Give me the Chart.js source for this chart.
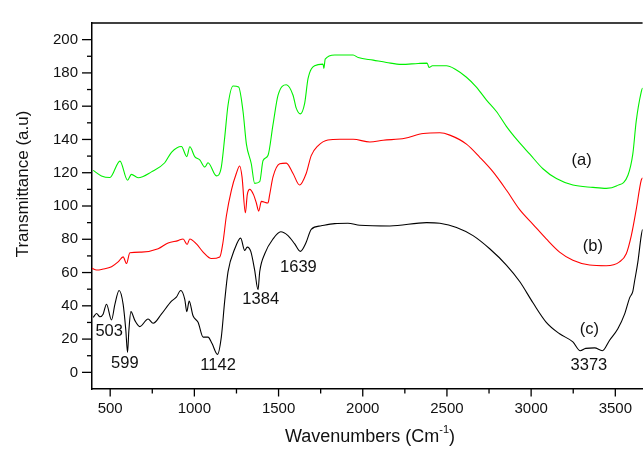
<!DOCTYPE html>
<html><head><meta charset="utf-8">
<script src="https://cdn.jsdelivr.net/npm/chart.js@4.4.1/dist/chart.umd.min.js"></script>
<style>html,body{margin:0;padding:0;background:#fff;overflow:hidden}#wrap{width:643px;height:454px;position:relative}</style>
</head><body><div id="wrap"><canvas id="c"></canvas></div>
<script>
// ---- data (wavenumber, transmittance) ----
const wnA = [399,448,498,558,603,626,666,745,824,864,923,955,973,1002,1032,1062,1081,1131,1160,1180,1200,1230,1263,1289,1309,1338,1358,1388,1408,1437,1467,1497,1546,1586,1605,1629,1655,1675,1714,1764,1769,1777,1833,1864,1943,1973,2062,2141,2230,2329,2382,2394,2414,2497,2547,2616,2675,2735,2794,2853,2922,2991,3070,3150,3248,3367,3446,3506,3575,3604,3624,3654,3662];
const trA = [121.4,118.1,117.1,127,115.5,119,117,120.5,126,132.3,135.8,129.7,135.6,129.7,127.7,123.4,126,118.1,123.4,141.1,160.7,172.1,171.5,156.8,137.2,125.4,113.6,114.6,127.3,130.3,148.9,166.6,172.9,166.6,158.8,155.4,161.7,176.5,184.3,185.3,182.7,188.3,190.8,190.8,190.8,189.2,187.7,186.3,185.1,185.7,185.9,183.3,184.3,184.3,182.4,177.4,171.5,163.7,156.8,147.9,139.1,131.3,122.4,116.5,112.6,111.2,110.6,112,118.5,131.3,150.9,168.6,171];

const wnB = [392,419,458,508,547,577,597,617,686,785,844,903,933,957,973,1012,1052,1101,1151,1170,1190,1220,1249,1269,1283,1303,1314,1329,1352,1368,1382,1398,1437,1447,1467,1507,1546,1586,1625,1664,1694,1734,1793,1864,1943,2042,2121,2250,2359,2458,2517,2616,2695,2774,2853,2932,3011,3090,3169,3248,3347,3446,3525,3565,3595,3624,3654,3662];
const trB = [62.5,61.5,62.1,63.5,66.4,69.4,65.4,71.9,72.3,74.3,77.8,79.2,80.2,76.9,80.2,77.2,72.3,68.4,69.4,78.2,94,109.6,119.5,124,117.5,95.9,106.7,110,106.7,101.8,96.9,102.8,101.8,106.7,117.5,125.4,125.8,119.5,112.6,119.5,130.3,136.2,139.7,140.1,140.1,138.5,139.5,140.7,143.6,144,142.6,137.2,129.3,120.5,109.6,97.8,89,80.2,72.3,67.4,64.5,64.1,66.4,71.3,82.2,97.8,115.5,117];

const wnC = [399,419,439,458,478,508,528,553,577,593,603,611,623,647,676,725,755,804,864,893,919,943,955,969,992,1022,1052,1081,1105,1137,1160,1180,1200,1240,1275,1299,1314,1335,1358,1378,1388,1418,1467,1513,1556,1596,1629,1664,1694,1753,1833,1912,1983,2161,2379,2458,2557,2655,2754,2853,2932,3011,3090,3169,3248,3292,3324,3377,3423,3466,3515,3555,3585,3604,3614,3634,3654,3662];
const trC = [33,35.4,33.4,35,40.9,31.5,40.9,49.2,40.9,25.2,12,25.2,36.5,31.1,27.5,32.1,29.5,35,42.8,45.2,49.2,43.9,36.5,42.8,34,30.1,21.2,21.2,17.3,10.8,21.2,42.8,60.5,74.3,80.7,73.3,75.3,72.7,61.5,49.7,60.5,71.3,80.2,84.5,82.2,77.2,72.7,78.2,86,88.1,89.4,89.6,88.4,88,90,89.6,87.1,82.2,74.3,64.5,54.6,41.8,30.1,23.2,18.3,13,14.4,14.7,13,19.3,26.2,35,44.8,48.7,54.6,66.4,82.2,86];

// ---- axis ticks ----
const xMajorTicks = [500,1000,1500,2000,2500,3000,3500];
const xMinorTicks = [750,1250,1750,2250,2750,3250];
const yMajorTicks = [0,20,40,60,80,100,120,140,160,180,200];
const yMinorTicks = [10,30,50,70,90,110,130,150,170,190];

// ---- annotations ----
const annoText = ['503','599','1142','1384','1639','3373','(a)','(b)','(c)'];
const annoX = [494,587,1141,1394,1618,3343,3300,3367,3346];
const annoY = [24.6,5.1,3.9,43.9,62.9,4.2,127.3,75.9,25.5];

const xTitle = 'Wavenumbers (Cm';
const xTitleSup = '-1';
const yTitle = 'Transmittance (a.u)';

const FONT = '"Liberation Sans", Arial, sans-serif';

const toXY = (xs, ys) => xs.map((x, i) => ({x: x, y: ys[i]}));

const decor = {
  id: 'decor',
  afterDraw(chart) {
    const ctx = chart.ctx, ca = chart.chartArea;
    const xs = chart.scales.x, ys = chart.scales.y;
    ctx.save();
    ctx.strokeStyle = '#000';
    ctx.lineWidth = 1.5;
    ctx.beginPath(); ctx.moveTo(ca.left, ca.top); ctx.lineTo(ca.right, ca.top); ctx.stroke();
    const xb = ca.bottom;
    ctx.lineWidth = 1.3;
    xMajorTicks.forEach(v => { const p = xs.getPixelForValue(v); ctx.beginPath(); ctx.moveTo(p, xb); ctx.lineTo(p, xb + 7.5); ctx.stroke(); });
    xMinorTicks.forEach(v => { const p = xs.getPixelForValue(v); ctx.beginPath(); ctx.moveTo(p, xb); ctx.lineTo(p, xb + 4.5); ctx.stroke(); });
    const yl = ca.left;
    yMajorTicks.forEach(v => { const p = ys.getPixelForValue(v); ctx.beginPath(); ctx.moveTo(yl, p); ctx.lineTo(yl - 10, p); ctx.stroke(); });
    yMinorTicks.forEach(v => { const p = ys.getPixelForValue(v); ctx.beginPath(); ctx.moveTo(yl, p); ctx.lineTo(yl - 5, p); ctx.stroke(); });
    ctx.fillStyle = '#111';
    ctx.textAlign = 'center';
    ctx.textBaseline = 'middle';
    ctx.font = '16.5px ' + FONT;
    annoText.forEach((t, i) => {
      ctx.fillText(t, xs.getPixelForValue(annoX[i]), ys.getPixelForValue(annoY[i]));
    });
    ctx.save();
    ctx.translate(23, 184);
    ctx.rotate(-Math.PI / 2);
    ctx.font = '17px ' + FONT;
    ctx.fillText(yTitle, 0, 0);
    ctx.restore();
    ctx.font = '18px ' + FONT;
    const w1 = ctx.measureText(xTitle).width;
    ctx.font = '11px ' + FONT;
    const w2 = ctx.measureText(xTitleSup).width;
    ctx.font = '18px ' + FONT;
    const w3 = ctx.measureText(')').width;
    const total = w1 + w2 + w3;
    const x0 = 370 - total / 2;
    const yc = 437;
    ctx.textAlign = 'left';
    ctx.fillText(xTitle, x0, yc);
    ctx.font = '11px ' + FONT;
    ctx.fillText(xTitleSup, x0 + w1, yc - 7);
    ctx.font = '18px ' + FONT;
    ctx.fillText(')', x0 + w1 + w2, yc);
    ctx.restore();
  }
};

new Chart(document.getElementById('c'), {
  type: 'line',
  data: {
    datasets: [
      {label: '(a)', data: toXY(wnA, trA), borderColor: '#00f000', borderWidth: 1.1, pointRadius: 0, cubicInterpolationMode: 'monotone'},
      {label: '(b)', data: toXY(wnB, trB), borderColor: '#ff0000', borderWidth: 1.1, pointRadius: 0, cubicInterpolationMode: 'monotone'},
      {label: '(c)', data: toXY(wnC, trC), borderColor: '#000000', borderWidth: 1.1, pointRadius: 0, cubicInterpolationMode: 'monotone'}
    ]
  },
  options: {
    responsive: true,
    maintainAspectRatio: false,
    animation: false,
    layout: {padding: {left: 0, right: 0, top: 16, bottom: 0}},
    plugins: {legend: {display: false}, tooltip: {enabled: false}},
    scales: {
      x: {
        type: 'linear', min: 392, max: 3662,
        afterBuildTicks: s => { s.ticks = xMajorTicks.map(v => ({value: v})); },
        afterFit: s => { s.height = 65; },
        ticks: {font: {family: FONT, size: 15}, color: '#111', padding: 11, maxRotation: 0, autoSkip: false, callback: v => String(v)},
        grid: {display: true, drawOnChartArea: false, drawTicks: false},
        border: {display: true, color: '#000', width: 1.5}
      },
      y: {
        type: 'linear', min: -10, max: 210,
        afterBuildTicks: s => { s.ticks = yMajorTicks.map(v => ({value: v})); },
        afterFit: s => { s.width = 92; },
        ticks: {font: {family: FONT, size: 15}, color: '#111', padding: 14, callback: v => String(v)},
        grid: {display: true, drawOnChartArea: false, drawTicks: false},
        border: {display: true, color: '#000', width: 1.5}
      }
    }
  },
  plugins: [decor]
});
</script>
</body></html>
